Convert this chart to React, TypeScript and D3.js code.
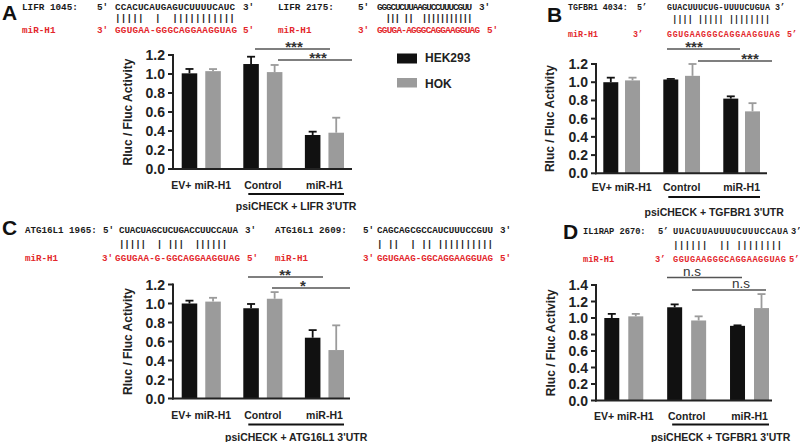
import React from 'react';
import * as d3 from 'd3';

const SANS = "'Liberation Sans', Arial, Helvetica, sans-serif";
const MONO = "'Liberation Mono', 'Courier New', monospace";
const RED = '#e3262b';
const HEK_COLOR = '#111111';
const HOK_COLOR = '#9b9b9b';

// ---------- data ----------
const groups = ['EV+ miR-H1', 'Control', 'miR-H1'];
const seriesNames = ['HEK293', 'HOK'];

const lifrHek = [1.007, 1.105, 0.358];
const lifrHekErr = [0.046, 0.077, 0.035];
const lifrHok = [1.03, 1.02, 0.382];
const lifrHokErr = [0.022, 0.075, 0.158];

const tgfbrHek = [1.0, 1.03, 0.82];
const tgfbrHekErr = [0.05, 0.006, 0.025];
const tgfbrHok = [1.02, 1.07, 0.68];
const tgfbrHokErr = [0.03, 0.13, 0.09];

const atgHek = [1.0, 0.95, 0.64];
const atgHekErr = [0.03, 0.045, 0.08];
const atgHok = [1.02, 1.05, 0.51];
const atgHokErr = [0.04, 0.07, 0.26];

const il1Hek = [1.0, 1.13, 0.905];
const il1HekErr = [0.05, 0.035, 0.006];
const il1Hok = [1.02, 0.97, 1.12];
const il1HokErr = [0.03, 0.05, 0.17];

const ticks12 = [0, 0.2, 0.4, 0.6, 0.8, 1.0, 1.2];
const ticks14 = [0, 0.2, 0.4, 0.6, 0.8, 1.0, 1.2, 1.4];

const sigA = ['***', '***'];
const sigB = ['***', '***'];
const sigC = ['**', '*'];
const sigD = ['n.s', 'n.s'];

const seqLabels = ['LIFR 1045:', 'LIFR 2175:', 'TGFBR1 4034:', 'ATG16L1 1965:', 'ATG16L1 2609:', 'IL1RAP 2670:'];
const mrnaSeqs = [
  'CCACUCAUGAGUCUUUUCAUC',
  'GGGCUCUUAAGUCCUUUCGUU',
  'GUACUUUCUG-UUUUCUGUA',
  'CUACUAGCUCUGACCUUCCAUA',
  'CAGCAGCGCCAUCUUUCCGUU',
  'UUACUUAUUUUCUUUCCAUA',
];
const pairSeqs = [
  '|||||  |  |||||||||||',
  '  ||| ||  |||||||||||',
  ' |||| ||||| ||||||||',
  '|||||  | |||  |||||| ',
  '| ||  | || ||||||||||',
  '||||||  || |||||||| ',
];
const mirSeqs = [
  'GGUGAA-GGGCAGGAAGGUAG',
  'GGUGA-AGGGCAGGAAGGUAG',
  'GGUGAAGGGCAGGAAGGUAG',
  'GGUGAA-G-GGCAGGAAGGUAG',
  'GGUGAAG-GGCAGGAAGGUAG',
  'GGUGAAGGGCAGGAAGGUAG',
];
const primes = [["5'", "3'"], ["5'", "3'"], ['5’', '3’'], ["5'", "3'"], ["5'", "3'"], ['5’', '3’']];

// ---------- layout ----------
const seqLayout = [
  { fs: 9.3, lx: 22, px: 97, sx: 115, w: 120, ex: 243, rpx: 97, rsx: 115, rw: 122, rex: 243, y1: 9.5, y2: 21, y3: 33 },
  { fs: 9.3, lx: 278, px: 358, sx: 377, w: 95, ex: 479, rpx: 358, rsx: 377, rw: 103, rex: 487, y1: 9.5, y2: 21, y3: 33 },
  { fs: 8.3, lx: 568, px: 637, sx: 667, w: 103, ex: 775, rpx: 633, rsx: 667, rw: 113, rex: 787, y1: 10, y2: 21.5, y3: 37 },
  { fs: 9.2, lx: 25, px: 103, sx: 119, w: 119, ex: 245, rpx: 102, rsx: 115, rw: 125, rex: 247, y1: 233, y2: 247, y3: 261 },
  { fs: 9.2, lx: 275, px: 363, sx: 377, w: 116, ex: 500, rpx: 363, rsx: 377, rw: 116, rex: 500, y1: 233, y2: 247, y3: 261 },
  { fs: 8.7, lx: 583, px: 658, sx: 673, w: 115, ex: 791, rpx: 655, rsx: 673, rw: 113, rex: 789, y1: 234, y2: 248, y3: 261.5 },
];

const panels = [
  {
    letter: 'A', lx: 2, ly: 20, hek: lifrHek, hekErr: lifrHekErr, hok: lifrHok, hokErr: lifrHokErr,
    ticks: ticks12, max: 1.2, yBottom: 169, yTop: 55, axisX: 173, axisEnd: 352,
    range: [181.7, 344], p: 0.365, pi: 0.34, titleX: 128, xLabY: 189, bracketY: 194, noteY: 210,
    note: "psiCHECK + LIFR 3'UTR", sig: sigA,
    sigPos: [{ x1: 255, x2: 330, y: 49, tx: 294 }, { x1: 278, x2: 352, y: 60, tx: 318 }],
  },
  {
    letter: 'B', lx: 547, ly: 22, hek: tgfbrHek, hekErr: tgfbrHekErr, hok: tgfbrHok, hokErr: tgfbrHokErr,
    ticks: ticks12, max: 1.2, yBottom: 173.3, yTop: 64, axisX: 596, axisEnd: 767,
    range: [603.3, 760], p: 0.388, pi: 0.31, titleX: 550, xLabY: 191, bracketY: 197, noteY: 216,
    note: "psiCHECK + TGFBR1 3'UTR", sig: sigB,
    sigPos: [{ x1: 667, x2: 740, y: 49, tx: 694 }, { x1: 698, x2: 772, y: 61, tx: 750 }],
  },
  {
    letter: 'C', lx: 2, ly: 235, hek: atgHek, hekErr: atgHekErr, hok: atgHok, hokErr: atgHokErr,
    ticks: ticks12, max: 1.2, yBottom: 398.5, yTop: 284.5, axisX: 173, axisEnd: 350,
    range: [181.7, 344], p: 0.365, pi: 0.34, titleX: 128, xLabY: 419, bracketY: 424.5, noteY: 440.5,
    note: "psiCHECK + ATG16L1 3'UTR", sig: sigC,
    sigPos: [{ x1: 248, x2: 323, y: 277, tx: 285 }, { x1: 272, x2: 350, y: 288, tx: 303 }],
  },
  {
    letter: 'D', lx: 563, ly: 239, hek: il1Hek, hekErr: il1HekErr, hok: il1Hok, hokErr: il1HokErr,
    ticks: ticks14, max: 1.4, yBottom: 400.5, yTop: 285, axisX: 596, axisEnd: 772,
    range: [604.3, 769], p: 0.38, pi: 0.375, titleX: 551, xLabY: 419.5, bracketY: 424.5, noteY: 440.5,
    note: "psiCHECK + TGFBR1 3'UTR", sig: sigD,
    sigPos: [{ x1: 667, x2: 742, y: 277.5, tx: 692 }, { x1: 692, x2: 766, y: 290, tx: 741 }],
  },
];

function SeqBlock({ i }: { i: number }) {
  const L = seqLayout[i];
  const pairs = pairSeqs[i];
  const n = mrnaSeqs[i].length;
  const cw = L.w / n;
  return (
    <g fontFamily={MONO} fontWeight="bold" fontSize={L.fs}>
      <text x={L.lx} y={L.y1} fill="#1a1a1a">{seqLabels[i]}</text>
      <text x={L.px} y={L.y1} fill="#1a1a1a">{primes[i][0]}</text>
      <text x={L.sx} y={L.y1} fill="#1a1a1a" textLength={L.w} lengthAdjust="spacing">{mrnaSeqs[i]}</text>
      <text x={L.ex} y={L.y1} fill="#1a1a1a">{primes[i][1]}</text>
      {pairs.split('').map((c, k) =>
        c === '|' ? (
          <text key={k} x={L.sx + (k + 0.5) * cw} y={L.y2} textAnchor="middle" fill="#1a1a1a">|</text>
        ) : null
      )}
      <text x={L.lx} y={L.y3} fill={RED}>miR-H1</text>
      <text x={L.rpx} y={L.y3} fill={RED}>{primes[i][1]}</text>
      <text x={L.rsx} y={L.y3} fill={RED} textLength={L.rw} lengthAdjust="spacing">{mirSeqs[i]}</text>
      <text x={L.rex} y={L.y3} fill={RED}>{primes[i][0]}</text>
    </g>
  );
}

function Panel({ cfg }: { cfg: any }) {
  const y = d3.scaleLinear().domain([0, cfg.max]).range([cfg.yBottom, cfg.yTop]);
  const x0 = d3.scaleBand<string>().domain(groups).range(cfg.range).paddingInner(cfg.p).paddingOuter(0);
  const x1 = d3.scaleBand<string>().domain(seriesNames).range([0, x0.bandwidth()]).paddingInner(cfg.pi).paddingOuter(0);
  const bw = x1.bandwidth();
  const seriesData = [
    { name: seriesNames[0], vals: cfg.hek, errs: cfg.hekErr, color: HEK_COLOR },
    { name: seriesNames[1], vals: cfg.hok, errs: cfg.hokErr, color: HOK_COLOR },
  ];
  const ctrlX = x0('Control') as number;
  const mirX = (x0('miR-H1') as number) + x0.bandwidth();
  const isNs = cfg.sig[0] === 'n.s';
  return (
    <g>
      <text x={cfg.lx} y={cfg.ly} fontFamily={SANS} fontWeight="bold" fontSize={21} fill="#111">{cfg.letter}</text>
      {/* significance */}
      {cfg.sigPos.map((s: any, k: number) => (
        <g key={k}>
          <line x1={s.x1} x2={s.x2} y1={s.y} y2={s.y} stroke="#555" strokeWidth={1.6} />
          <text x={s.tx} y={isNs ? s.y - 2 : s.y + 2.5} textAnchor="middle" fontFamily={SANS}
            fontWeight={isNs ? 'normal' : 'bold'} fontSize={isNs ? 13.5 : 15} fill="#333">{cfg.sig[k]}</text>
        </g>
      ))}
      {/* bars */}
      {seriesData.map((s) => (
        <g key={s.name}>
          {groups.map((g, gi) => {
            const bx = (x0(g) as number) + (x1(s.name) as number);
            const top = y(s.vals[gi]);
            const etop = y(s.vals[gi] + s.errs[gi]);
            const cx = bx + bw / 2;
            return (
              <g key={g}>
                <rect x={bx} y={top} width={bw} height={cfg.yBottom - top} fill={s.color} />
                <line x1={cx} x2={cx} y1={top} y2={etop} stroke={s.color} strokeWidth={1.8} />
                <line x1={cx - 4} x2={cx + 4} y1={etop} y2={etop} stroke={s.color} strokeWidth={1.8} />
              </g>
            );
          })}
        </g>
      ))}
      {/* y axis */}
      <line x1={cfg.axisX} x2={cfg.axisX} y1={cfg.yTop - 1} y2={cfg.yBottom + 1} stroke="#222" strokeWidth={2} />
      {cfg.ticks.map((t: number) => (
        <g key={t}>
          <line x1={cfg.axisX - 5} x2={cfg.axisX} y1={y(t)} y2={y(t)} stroke="#222" strokeWidth={2} />
          <text x={cfg.axisX - 8} y={y(t)} dy="0.36em" textAnchor="end" fontFamily={SANS} fontWeight="bold"
            fontSize={14} fill="#222">{d3.format('.1f')(t)}</text>
        </g>
      ))}
      <text transform={`translate(${cfg.titleX},${(cfg.yTop + cfg.yBottom) / 2}) rotate(-90)`} textAnchor="middle"
        dominantBaseline="central" fontFamily={SANS} fontWeight="bold" fontSize={12} fill="#222">Rluc / Fluc Activity</text>
      {/* x axis */}
      <line x1={cfg.axisX - 1} x2={cfg.axisEnd} y1={cfg.yBottom} y2={cfg.yBottom} stroke="#222" strokeWidth={2} />
      {groups.map((g) => (
        <text key={g} x={(x0(g) as number) + x0.bandwidth() / 2} y={cfg.xLabY} textAnchor="middle"
          fontFamily={SANS} fontWeight="bold" fontSize={10.5} fill="#222">{g}</text>
      ))}
      <line x1={ctrlX + 5} x2={mirX} y1={cfg.bracketY} y2={cfg.bracketY} stroke="#111" strokeWidth={2} />
      <text x={(ctrlX + 5 + mirX) / 2} y={cfg.noteY} textAnchor="middle" fontFamily={SANS} fontWeight="bold"
        fontSize={10.5} fill="#222">{cfg.note}</text>
    </g>
  );
}

export default function App() {
  return (
    <svg width={800} height={442} viewBox="0 0 800 442" style={{ position: 'absolute', left: 0, top: 0, background: '#fff' }}>
      <rect x={0} y={0} width={800} height={442} fill="#fff" />
      {seqLabels.map((_, i) => <SeqBlock key={i} i={i} />)}
      {panels.map((p) => <Panel key={p.letter} cfg={p} />)}
      {/* legend */}
      <g fontFamily={SANS} fontWeight="bold" fontSize={12} fill="#222">
        <rect x={397} y={53.5} width={20} height={10} fill={HEK_COLOR} />
        <text x={425} y={62}>{seriesNames[0]}</text>
        <rect x={397} y={78} width={20} height={9.5} fill={HOK_COLOR} />
        <text x={425} y={87.5}>{seriesNames[1]}</text>
      </g>
    </svg>
  );
}
